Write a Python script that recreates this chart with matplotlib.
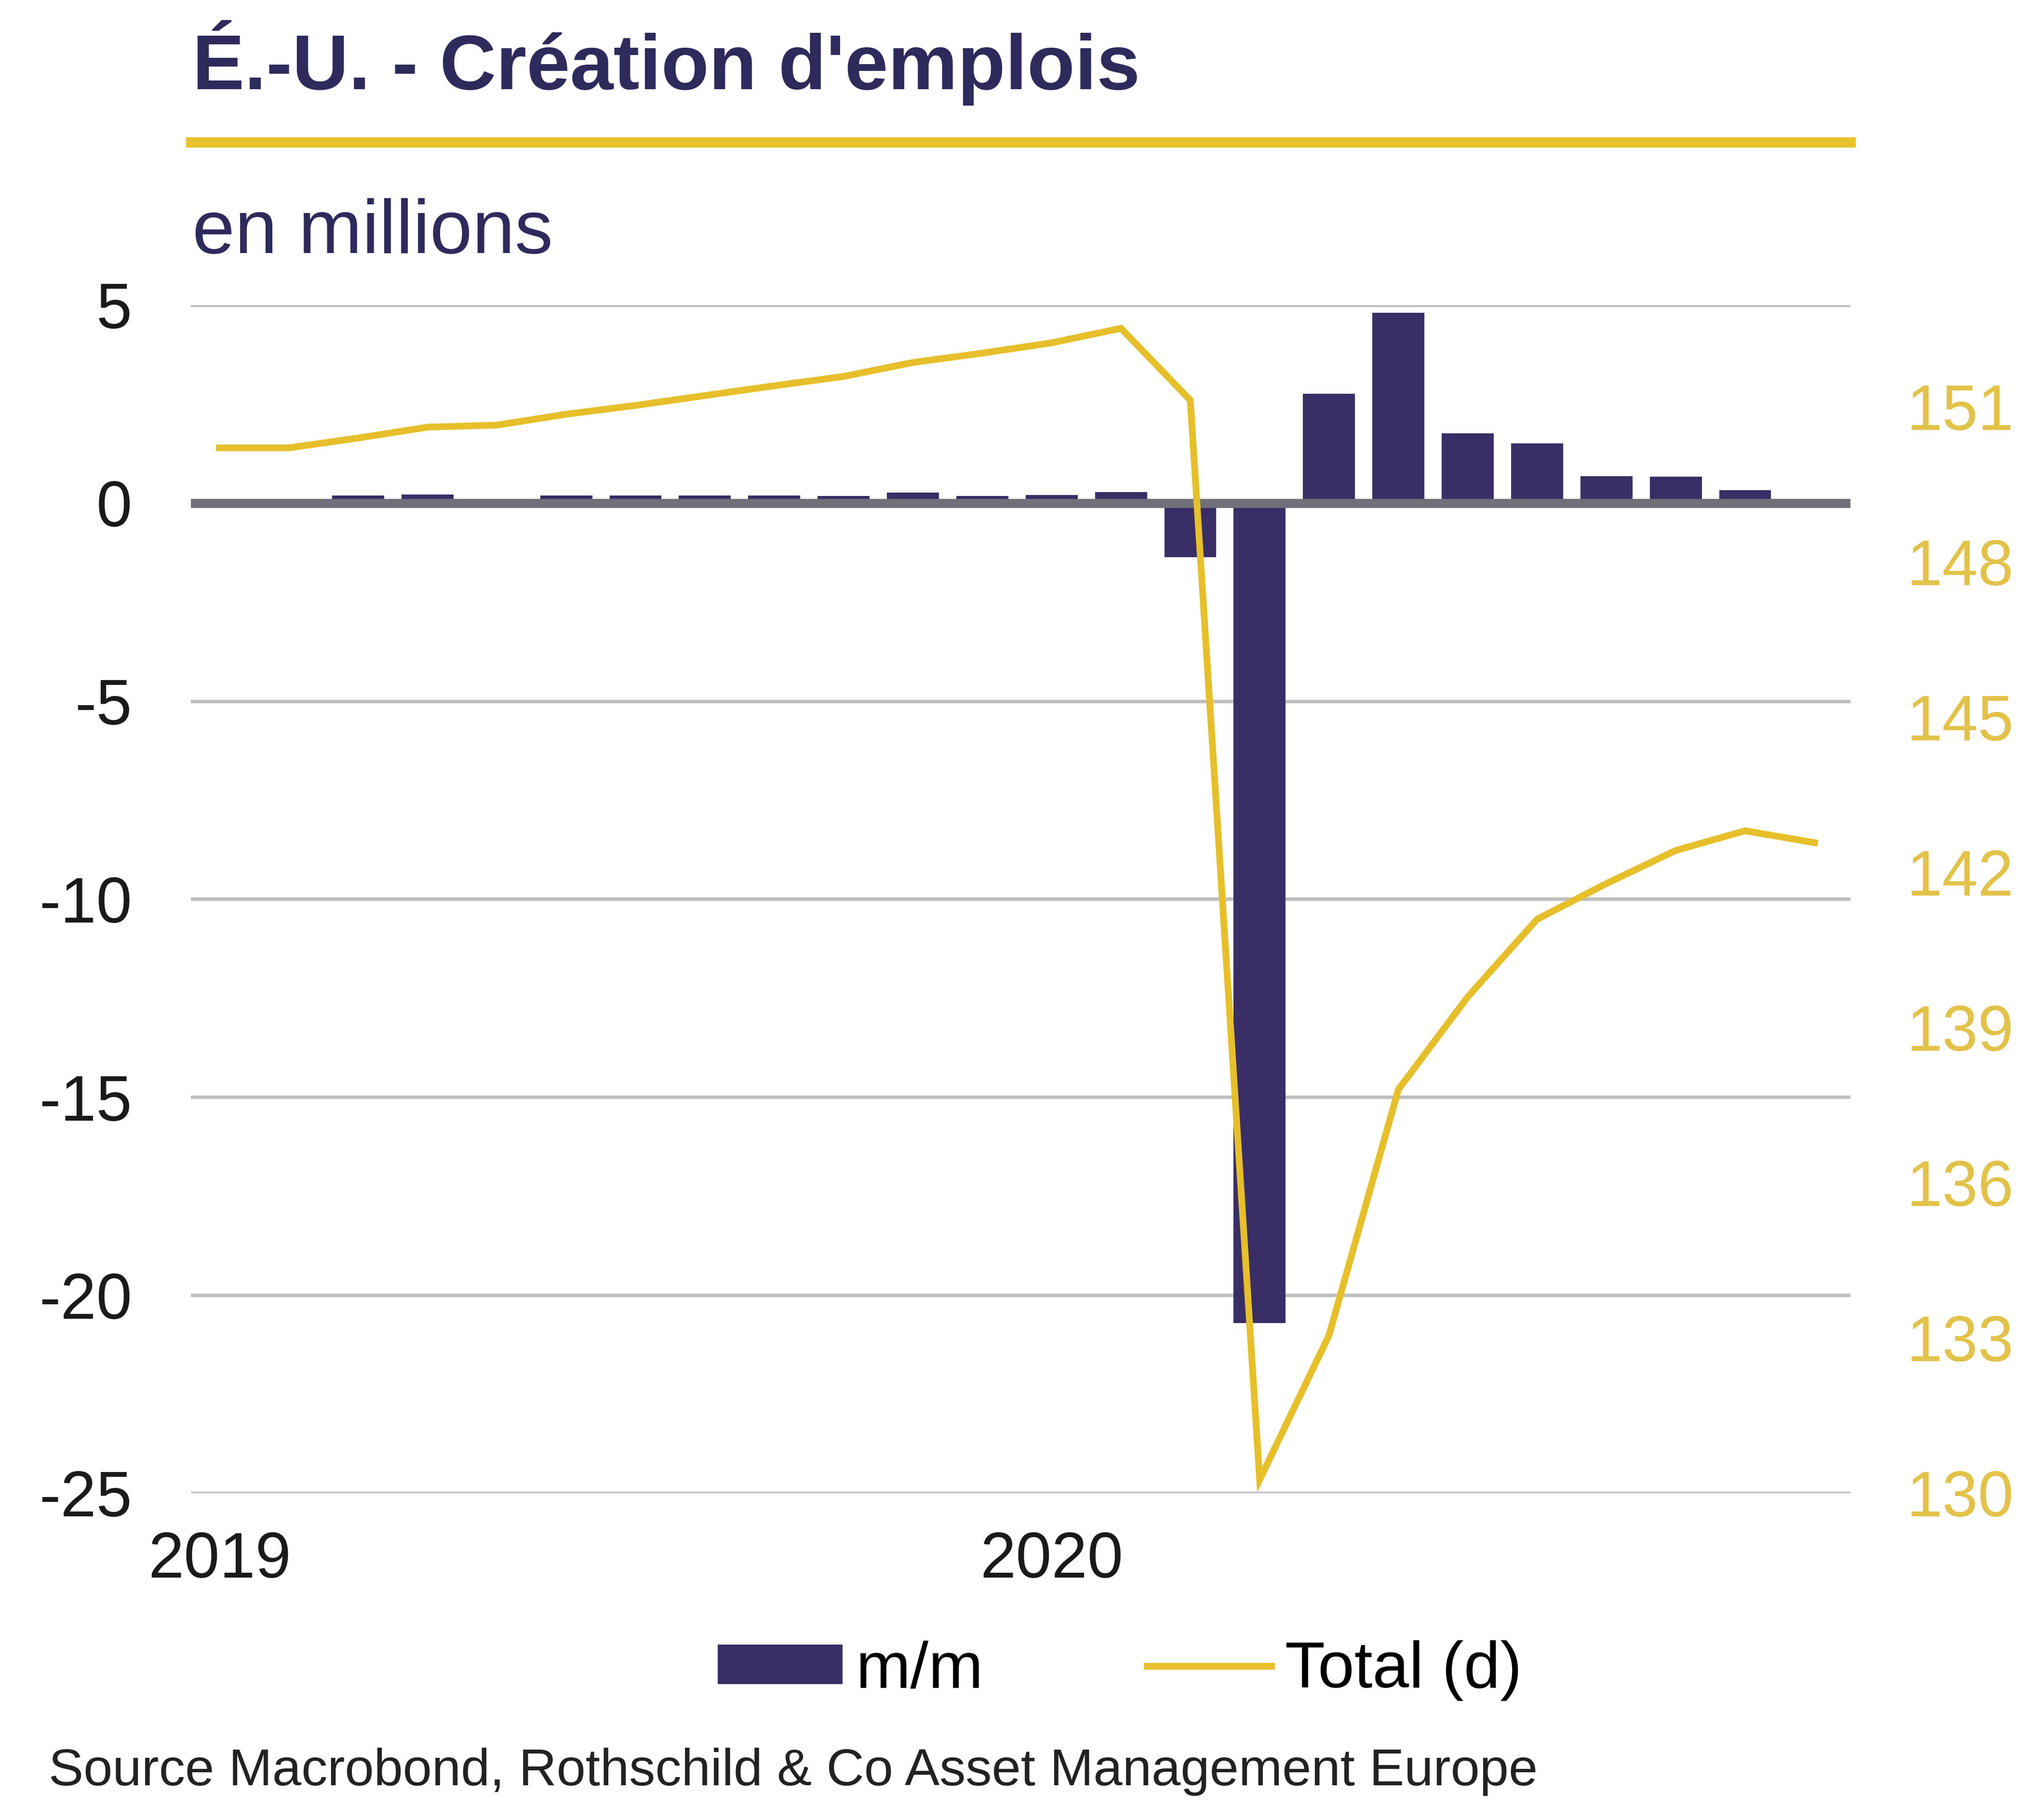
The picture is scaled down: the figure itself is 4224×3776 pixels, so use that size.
import matplotlib.pyplot as plt
from matplotlib.patches import Patch
from matplotlib.lines import Line2D

plt.rcParams['font.family'] = ['Liberation Sans', 'DejaVu Sans']

# Jan 2019 .. Dec 2020
months = ['2019-01', '2019-02', '2019-03', '2019-04', '2019-05', '2019-06',
          '2019-07', '2019-08', '2019-09', '2019-10', '2019-11', '2019-12',
          '2020-01', '2020-02', '2020-03', '2020-04', '2020-05', '2020-06',
          '2020-07', '2020-08', '2020-09', '2020-10', '2020-11', '2020-12']
mm = [0.02, 0.02, 0.19, 0.21, 0.04, 0.19, 0.19, 0.19, 0.19, 0.18, 0.27, 0.18,
      0.20, 0.28, -1.37, -20.7, 2.76, 4.8, 1.76, 1.5, 0.68, 0.66, 0.32, -0.1]
total = [150.20, 150.20, 150.39, 150.60, 150.64, 150.85, 151.02, 151.21, 151.40,
         151.58, 151.85, 152.03, 152.23, 152.51, 151.12, 130.26, 133.05, 137.80,
         139.59, 141.09, 141.78, 142.42, 142.80, 142.57]
year_labels = ['2019', '2020']
left_ticks = [5, 0, -5, -10, -15, -20, -25]
right_ticks = [130, 133, 136, 139, 142, 145, 148, 151]

navy = '#3a2e66'
title_col = '#2f2a5c'
gold = '#e6bf2a'
gold_txt = '#e3c24a'

fig = plt.figure(figsize=(10.56, 9.44), dpi=400)
ax = fig.add_axes([0.0938, 0.1796, 0.8151, 0.6528])
x = list(range(len(months)))

ax.bar(x, mm, width=0.75, color=navy, zorder=2)
ax.axhline(0, color='#707078', lw=3.4, zorder=3)
ax.set_ylim(-25, 5)
ax.set_yticks(left_ticks)
ax.set_yticklabels([str(v) for v in left_ticks])
ax.grid(axis='y', color='#bfbfbf', lw=1.3, zorder=0)
ax.set_axisbelow(True)
ax.set_xlim(-0.41, 23.52)
ax.set_xticks([0, 12])
ax.set_xticklabels(year_labels)
ax.tick_params(axis='both', length=0, labelsize=24, colors='#1a1a1a')
ax.tick_params(axis='x', pad=14)
ax.tick_params(axis='y', pad=22)
for s in ax.spines.values():
    s.set_visible(False)

ax2 = ax.twinx()
ax2.plot(x, total, color=gold, lw=2.5, solid_joinstyle='miter', zorder=4)
ax2.set_ylim(130, 152.96)
ax2.set_yticks(right_ticks)
ax2.set_yticklabels([str(v) for v in right_ticks])
ax2.tick_params(axis='y', length=0, labelsize=24, colors=gold_txt, pad=21)
for s in ax2.spines.values():
    s.set_visible(False)

fig.text(0.0945, 0.951, "É.-U. - Création d'emplois", fontsize=29.2,
         fontweight='bold', color=title_col, va='baseline')
fig.add_artist(Line2D([0.0938, 0.9089], [0.922, 0.922], color='#e8c22a', lw=3.8))
fig.text(0.0945, 0.861, 'en millions', fontsize=28.5, color=title_col, va='baseline')

handles = [Patch(facecolor=navy), Line2D([0], [0], color=gold, lw=2.5)]
fig.legend(handles, ['m/m', 'Total (d)'], loc='center', bbox_to_anchor=(0.55, 0.082),
           ncol=2, frameon=False, fontsize=24.5, handlelength=1.9, handleheight=0.55,
           handletextpad=0.2, columnspacing=2.5)

fig.text(0.024, 0.019, 'Source Macrobond, Rothschild & Co Asset Management Europe',
         fontsize=19.5, color='#222222', va='baseline')

fig.savefig('out.png', dpi=400, facecolor='white')
